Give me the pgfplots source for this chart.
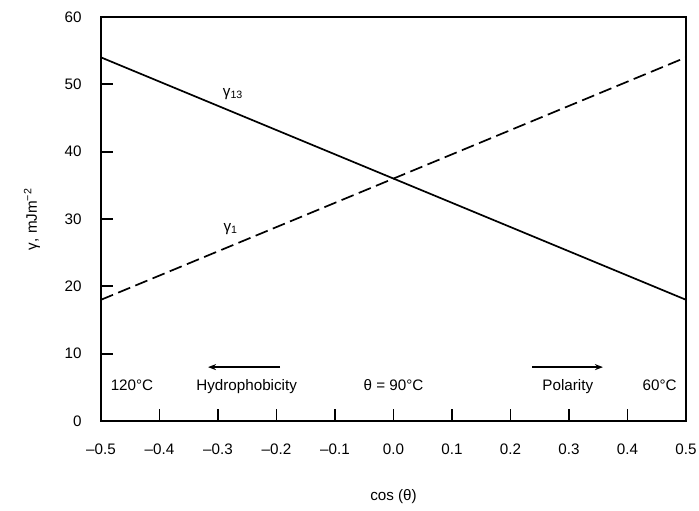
\documentclass[border=0pt]{standalone}
\usepackage{fontspec}
\setmainfont{Liberation Sans}
\usepackage{pgfplots}
\pgfplotsset{compat=1.18}
\usetikzlibrary{arrows.meta}

\begin{document}
\begin{tikzpicture}[font=\fontsize{7.6bp}{9bp}\selectfont]
\begin{axis}[
  scale only axis,
  width=292.5bp, height=202bp,
  xmin=-0.5, xmax=0.5, ymin=0, ymax=60,
  axis line style={line width=1.2bp},
  tick pos=left, tick align=inside,
  major tick length=6bp,
  tick style={line width=0.9bp, black},
  xtick={-0.5,-0.4,-0.3,-0.2,-0.1,0,0.1,0.2,0.3,0.4,0.5},
  xticklabels={\textendash0.5,\textendash0.4,\textendash0.3,\textendash0.2,\textendash0.1,0.0,0.1,0.2,0.3,0.4,0.5},
  ytick={0,10,20,30,40,50,60},
  /pgf/number format/assume math mode=true,
  yticklabel style={anchor=east, inner sep=0pt, xshift=-9.5bp},
  xticklabel style={anchor=north, inner sep=0pt, yshift=-11bp},
  xlabel={cos (θ)},
  ylabel={γ, mJm\textsuperscript{−2}},
  xlabel style={at={(axis description cs:0.5,-0.188)}, anchor=center},
  ylabel style={at={(axis description cs:-0.118,0.5)}, anchor=center, rotate=0},
  clip=false,
]
  % surface free energy of the liquid (solid) and of the interface (dashed)
  \addplot[black, line width=0.85bp] coordinates {(-0.5,54) (0.5,18)};
  \addplot[black, line width=0.85bp, dash pattern=on 6.5bp off 2.8bp] coordinates {(-0.5,18) (0.5,54)};

  \node at (axis cs:-0.274,48.6) {γ\textsubscript{13}};
  \node at (axis cs:-0.278,28.5) {γ\textsubscript{1}};

  \node[anchor=base] at (axis cs:-0.447,4.6) {120°C};
  \node[anchor=base] at (axis cs:-0.251,4.6) {Hydrophobicity};
  \node[anchor=base] at (axis cs:0.0,4.6) {θ = 90°C};
  \node[anchor=base] at (axis cs:0.298,4.6) {Polarity};
  \node[anchor=base] at (axis cs:0.455,4.6) {60°C};

  \draw[-{Stealth[length=4bp,width=3bp]}, line width=0.8bp] (axis cs:-0.194,8.0) -- (axis cs:-0.317,8.0);
  \draw[-{Stealth[length=4bp,width=3bp]}, line width=0.8bp] (axis cs:0.237,8.0) -- (axis cs:0.358,8.0);

  \coordinate (bbl) at (rel axis cs:-0.1726,-0.2129);
  \coordinate (btr) at (rel axis cs:1.0222,1.042);
\end{axis}
\path[use as bounding box] (bbl) rectangle (btr);
\end{tikzpicture}
\end{document}
